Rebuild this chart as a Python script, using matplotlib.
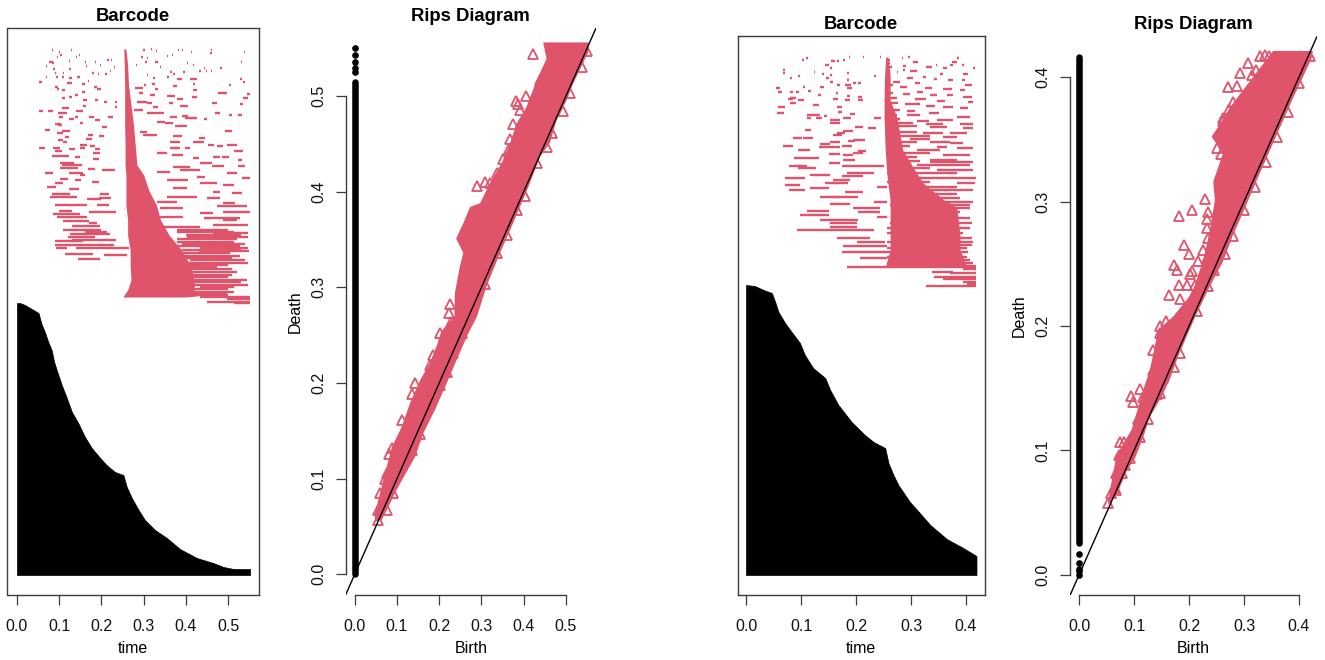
import matplotlib
matplotlib.use('Agg')
import matplotlib.pyplot as plt

RED = '#DF536B'
AXIS = '#3c3c3c'
W, H = 1325., 660.

plt.rcParams['font.family'] = ['Liberation Sans', 'DejaVu Sans']
plt.rcParams['font.size'] = 11.5

# ---- left pair ----
# black bars: outline of the stack, (rank, death)
black_rank_a = [0, 6, 6, 8, 12, 17, 26, 37, 45, 55, 65, 77, 88, 100, 103, 110, 117, 127, 138, 152, 163, 177, 190, 205, 213, 225, 233, 243, 251, 262, 266, 270, 272, 272]
black_end_a = [.552, .552, .513, .489, .465, .426, .386, .355, .327, .303, .288, .272, .260, .252, .232, .212, .197, .177, .161, .145, .130, .118, .106, .094, .088, .082, .074, .066, .058, .051, .035, .019, .007, 0.0]

# dense part of the red bars: rank, birth, death
core_rank_a = [526, 510, 490, 470, 450, 430, 410, 400, 385, 370, 355, 340, 325, 310, 295, 285, 279, 278]
core_left_a = [.253, .254, .255, .255, .255, .256, .256, .258, .258, .258, .262, .262, .268, .268, .270, .262, .252, .252]
core_right_a = [.258, .262, .264, .270, .276, .280, .284, .300, .312, .330, .340, .360, .390, .410, .420, .420, .425, .400]

red_left_a = [
    (525,.084,.086),(523,.100,.103),(520,.103,.106),(525,.129,.131),(520,.148,.150),(518,.095,.097),(518,.140,.143),
    (516,.146,.148),(514,.122,.125),(513,.076,.085),(513,.162,.164),(513,.184,.186),(515,.214,.217),(515,.223,.226),
    (512,.084,.087),(510,.197,.200),(509,.069,.071),(509,.163,.166),(508,.230,.233),(506,.086,.090),(506,.124,.127),
    (502,.108,.111),(502,.090,.092),(502,.177,.183),(501,.192,.195),(501,.209,.212),(504,.220,.223),(498,.069,.072),
    (498,.092,.098),(498,.106,.111),(498,.141,.149),(497,.122,.130),(493,.053,.059),(494,.167,.171),(492,.118,.130),
    (491,.153,.161),(488,.090,.096),(488,.182,.190),(486,.189,.198),(485,.106,.114),(486,.094,.100),(483,.153,.161),
    (480,.137,.144),(478,.122,.130),(477,.106,.114),(475,.157,.165),(475,.185,.193),(473,.205,.213),(473,.232,.238),
    (469,.157,.163),(468,.232,.238),(467,.106,.122),(464,.051,.061),(464,.074,.086),(464,.140,.157),(462,.098,.118),
    (458,.100,.110),(458,.171,.182),(458,.216,.227),(458,.137,.145),(456,.122,.135),(455,.185,.197),(451,.090,.104),
    (452,.149,.156),(450,.098,.106),(448,.201,.214),(445,.066,.078),(444,.106,.126),(442,.094,.110),(440,.169,.179),
    (439,.195,.206),(438,.114,.122),(436,.163,.177),(435,.098,.110),(433,.108,.118),(430,.149,.165),(429,.173,.185),
    (427,.053,.066),(427,.085,.102),(426,.122,.137),(427,.149,.161),(426,.185,.197),(424,.090,.106),(422,.181,.197),
    (419,.082,.122),(418,.137,.149),(416,.181,.195),(412,.102,.134),(410,.106,.153),(407,.102,.145),(406,.169,.185),
    (405,.201,.232),(402,.067,.086),(402,.122,.157),(400,.149,.161),(396,.102,.120),(395,.137,.152),(392,.090,.110),
    (393,.178,.195),(388,.072,.093),(386,.122,.148),(381,.082,.125),(381,.197,.217),(378,.078,.143),(377,.195,.222),
    (376,.165,.200),(370,.090,.165),(370,.190,.217),(364,.100,.130),(363,.170,.235),(361,.085,.150),(358,.095,.165),
    (354,.110,.170),(352,.170,.190),(349,.130,.197),(345,.110,.200),(343,.160,.213),(341,.125,.220),(338,.120,.185),
    (335,.130,.235),(334,.090,.157),(330,.090,.230),(327,.092,.118),(327,.140,.265),(321,.114,.181),(316,.145,.197),
    (320,.205,.260),
]
red_right_a = [
    (525,.299,.302),(526,.317,.319),(524,.329,.331),(526,.347,.348),(525,.381,.383),(525,.390,.393),(523,.412,.414),
    (525,.460,.463),(522,.457,.461),(523,.538,.540),(520,.367,.370),(519,.355,.357),(518,.293,.298),(517,.307,.310),
    (513,.303,.307),(513,.327,.333),(513,.530,.533),(510,.282,.285),(512,.402,.405),(510,.416,.419),(508,.339,.342),
    (507,.481,.485),(507,.442,.446),(504,.431,.435),(504,.448,.451),(504,.460,.463),(503,.363,.367),(503,.393,.397),
    (501,.370,.374),(500,.307,.311),(498,.355,.361),(497,.323,.327),(496,.378,.390),(496,.410,.426),(496,.528,.533),
    (493,.536,.541),(491,.319,.327),(491,.416,.422),(490,.301,.305),(490,.501,.506),(489,.370,.378),(487,.280,.299),
    (486,.327,.335),(485,.418,.426),(482,.477,.497),(482,.288,.299),(481,.544,.551),(480,.315,.327),(479,.355,.374),
    (478,.414,.426),(477,.536,.546),(476,.378,.394),(473,.284,.307),(472,.307,.319),(472,.359,.370),(471,.528,.536),
    (472,.461,.473),(469,.386,.406),(468,.323,.335),(465,.276,.299),(462,.469,.481),(462,.307,.347),(460,.501,.509),
    (460,.524,.534),(459,.390,.406),(458,.363,.378),(457,.398,.426),(456,.442,.451),(453,.331,.351),(452,.351,.370),
    (449,.374,.402),(444,.493,.509),(443,.291,.307),(440,.299,.331),(439,.370,.390),(437,.430,.445),(433,.363,.386),
    (433,.418,.442),(430,.453,.467),(429,.473,.489),(430,.497,.522),(427,.363,.386),(427,.398,.410),(424,.513,.536),
    (422,.331,.355),(420,.367,.394),(418,.465,.481),(418,.485,.501),(417,.418,.430),(415,.524,.532),(412,.434,.461),
    (409,.461,.491),(409,.524,.540),(408,.370,.410),(405,.386,.434),(403,.331,.363),(402,.497,.521),(398,.426,.445),
    (397,.532,.552),(395,.355,.406),(392,.434,.473),(390,.489,.513),(387,.370,.402),(383,.465,.481),(382,.509,.532),
    (378,.355,.426),(377,.449,.481),(373,.331,.378),(372,.489,.517),(369,.473,.544),(367,.339,.394),(363,.489,.552),
    (362,.434,.465),(358,.331,.394),(357,.442,.528),(355,.489,.521),(350,.465,.548),(348,.307,.434),(343,.378,.513),
    (342,.465,.548),(338,.402,.548),(333,.378,.513),(329,.378,.528),(327,.434,.548),(322,.378,.505),(319,.386,.528),
    (312,.394,.548),(308,.386,.473),(303,.386,.521),(300,.402,.509),(295,.386,.544),(290,.386,.548),(288,.434,.513),
    (283,.410,.513),(282,.410,.497),(278,.434,.552),(276,.497,.552),(273,.449,.552),(272,.513,.552),
    (345,.380,.500),(340,.400,.530),(336,.380,.520),(331,.390,.540),(325,.390,.530),(324,.430,.550),(317,.390,.510),
    (315,.410,.540),(310,.390,.500),(306,.400,.510),(298,.390,.500),(293,.400,.530),(286,.410,.500),(280,.410,.500),
]

# rips diagram, left: outline of the solid band and the triangles that stand out of it
band_upper_a = [(.446,.556),(.454,.539),(.431,.517),(.407,.489),(.383,.471),(.368,.451),(.348,.430),(.320,.409),
                (.297,.388),(.273,.384),(.257,.367),(.240,.351),(.257,.336),(.249,.322),(.237,.294),(.236,.270),
                (.205,.254),(.195,.240),(.178,.221),(.155,.203),(.131,.179),(.111,.154),(.088,.133),(.072,.106),
                (.060,.085),(.048,.064)]
band_lower_a = [(.553,.556),(.553,.546),(.517,.513),(.502,.496),(.478,.475),(.462,.451),(.438,.436),(.411,.405),
                (.391,.384),(.368,.360),(.344,.336),(.312,.301),(.289,.269),(.269,.252),(.241,.224),(.214,.196),
                (.190,.172),(.162,.147),(.143,.123),(.095,.085),(.076,.067),(.064,.057),(.048,.055)]
tri_birth_a = [.421,.466,.482,.454,.438,.450,.405,.382,.387,.390,.374,.393,.407,.368,.366,.352,.336,.289,.308,.320,
               .336,.344,.226,.222,.229,.549,.537,.509,.494,.466,.454,.431,.403,.383,.360,.336,.308,.202,.218,.186,
               .178,.143,.135,.159,.111,.088,.080,.076,.072,.060,.054,.056,.076,.091,.115,.135,.155,.178,.202,.218,
               .233,.253]
tri_death_a = [.544,.538,.532,.526,.517,.510,.500,.495,.492,.485,.471,.472,.477,.455,.445,.434,.419,.406,.410,.409,
               .409,.403,.283,.273,.264,.547,.530,.503,.484,.461,.447,.430,.395,.381,.355,.336,.304,.252,.243,.229,
               .219,.200,.189,.187,.161,.132,.126,.106,.100,.085,.067,.057,.067,.085,.120,.130,.147,.179,.198,.212,
               .231,.252]
# deaths of the dimension 0 points
col_runs_a = [(0.0, .515)]
col_dots_a = [.525, .529, .536, .543, .550]

# ---- right pair ----
black_rank_b = [0, 19, 27, 36, 50, 62, 73, 90, 100, 112, 127, 133, 140, 153, 170, 185, 197, 207, 220, 232, 243, 252, 263, 273, 282, 285, 289, 290]
black_end_b = [.419, .419, .395, .365, .335, .316, .298, .277, .268, .259, .253, .232, .216, .192, .168, .153, .144, .122, .107, .098, .083, .071, .059, .053, .047, .032, .016, 0.0]

core_rank_b = [518, 500, 475, 458, 425, 402, 392, 375, 368, 340, 325, 309, 308]
core_left_b = [.254, .252, .251, .251, .253, .256, .258, .262, .262, .262, .262, .254, .254]
core_right_b = [.258, .262, .262, .274, .285, .310, .322, .360, .383, .389, .389, .401, .401]

red_left_b = [
    (515,.101,.105),(517,.109,.112),(514,.155,.162),(514,.166,.169),(515,.177,.180),(518,.187,.189),(518,.212,.215),
    (517,.232,.233),(518,.244,.245),(510,.144,.150),(507,.153,.156),(505,.068,.071),(502,.068,.071),(503,.124,.126),
    (501,.138,.141),(500,.153,.157),(502,.184,.187),(499,.233,.236),(499,.095,.098),(497,.080,.083),(497,.145,.150),
    (495,.183,.187),(493,.153,.158),(492,.195,.200),(492,.204,.209),(490,.166,.171),(490,.180,.190),(488,.135,.141),
    (487,.183,.192),(488,.103,.107),(487,.055,.061),(484,.113,.118),(483,.059,.065),(483,.080,.086),(483,.091,.097),
    (482,.164,.168),(480,.130,.136),(479,.183,.189),(478,.204,.210),(477,.080,.091),(476,.077,.086),(475,.095,.105),
    (476,.159,.168),(475,.180,.189),(475,.204,.212),(472,.080,.091),(470,.122,.133),(468,.059,.071),(468,.165,.174),
    (463,.168,.174),(462,.057,.069),(460,.110,.135),(459,.141,.147),(461,.189,.198),(457,.110,.119),(457,.177,.190),
    (457,.128,.138),(457,.233,.245),(455,.153,.171),(452,.152,.171),(448,.198,.213),(447,.222,.236),(445,.107,.119),
    (444,.177,.195),(442,.165,.180),(440,.159,.174),(437,.085,.101),(437,.104,.121),(435,.195,.216),(434,.186,.198),
    (433,.153,.171),(431,.135,.153),(429,.067,.085),(428,.132,.171),(429,.174,.192),(425,.095,.116),(424,.204,.219),
    (422,.195,.213),(421,.150,.171),(420,.177,.195),(417,.087,.132),(415,.177,.198),(412,.150,.171),(409,.079,.110),
    (409,.174,.250),(407,.095,.128),(402,.183,.232),(400,.116,.153),(399,.174,.213),(397,.071,.107),(395,.159,.189),
    (392,.159,.186),(392,.144,.165),(390,.071,.099),(388,.238,.256),(387,.116,.150),(385,.079,.107),(383,.180,.213),
    (378,.156,.204),(378,.135,.171),(373,.232,.256),(371,.153,.189),(367,.195,.244),(364,.110,.150),(363,.204,.244),
    (360,.098,.150),(358,.238,.256),(355,.135,.204),(352,.153,.201),(348,.153,.201),(345,.092,.232),(337,.165,.225),
    (333,.201,.253),(329,.177,.256),(323,.174,.256),(317,.207,.256),(308,.183,.256),
]
red_right_b = [
    (515,.259,.262),(512,.256,.262),(508,.256,.265),(517,.283,.285),(518,.295,.298),(513,.304,.313),(509,.286,.290),
    (508,.328,.338),(510,.345,.348),(507,.359,.365),(510,.371,.376),(513,.374,.383),(517,.384,.388),(510,.392,.396),
    (507,.413,.417),(505,.286,.289),(503,.274,.277),(504,.298,.310),(501,.353,.359),(501,.395,.404),(498,.322,.328),
    (497,.292,.304),(496,.341,.347),(495,.368,.377),(495,.392,.398),(493,.268,.280),(492,.307,.316),(490,.256,.268),
    (490,.398,.410),(488,.280,.292),(487,.325,.338),(486,.359,.374),(485,.389,.398),(483,.310,.322),(482,.256,.268),
    (481,.286,.298),(480,.335,.347),(480,.365,.377),(478,.395,.410),(477,.256,.274),(476,.307,.328),(474,.347,.362),
    (473,.404,.413),(472,.256,.277),(471,.289,.316),(469,.328,.344),(468,.359,.377),(467,.389,.404),(465,.256,.280),
    (464,.292,.307),(462,.332,.350),(460,.256,.274),(460,.292,.316),(458,.383,.407),(456,.262,.280),(455,.347,.377),
    (454,.310,.332),(452,.256,.304),(451,.328,.359),(451,.389,.413),(449,.256,.310),(448,.335,.365),(447,.395,.413),
    (443,.262,.310),(442,.322,.359),(442,.371,.401),(439,.256,.335),(438,.359,.383),(436,.298,.335),(433,.256,.310),
    (433,.335,.371),(432,.371,.395),(429,.256,.298),(428,.347,.365),(425,.310,.353),(427,.383,.413),(422,.256,.335),
    (420,.359,.407),(418,.256,.310),(415,.335,.383),(414,.256,.316),(413,.335,.413),(410,.256,.298),(410,.310,.407),
    (407,.256,.335),(405,.347,.413),(402,.256,.383),(397,.274,.419),(393,.256,.335),(392,.383,.416),(388,.274,.383),
    (385,.262,.413),(381,.274,.383),(377,.268,.389),(373,.274,.413),(370,.262,.407),(367,.274,.407),(363,.274,.389),
    (357,.274,.407),(352,.262,.410),(347,.256,.407),(342,.256,.395),(337,.268,.410),(333,.256,.413),(330,.274,.410),
    (327,.256,.401),(323,.256,.404),(318,.256,.401),(315,.262,.407),(312,.256,.413),(309,.383,.419),(308,.256,.419),
    (306,.395,.419),(303,.338,.377),(302,.371,.419),(298,.341,.419),(296,.359,.419),(293,.395,.419),(291,.401,.419),
    (289,.328,.419),
]

band_upper_b = [(.353,.421),(.299,.390),(.275,.376),(.259,.364),(.241,.352),(.262,.339),(.244,.316),(.247,.301),
                (.238,.277),(.226,.253),(.205,.226),(.172,.208),(.144,.197),(.129,.165),(.117,.149),(.096,.117),
                (.068,.096),(.053,.060)]
band_lower_b = [(.425,.421),(.423,.415),(.388,.382),(.366,.360),(.350,.344),(.326,.320),(.298,.291),(.279,.272),
                (.262,.252),(.238,.232),(.214,.210),(.196,.192),(.178,.173),(.165,.157),(.150,.143),(.129,.127),
                (.117,.111),(.102,.094),(.087,.084),(.072,.068),(.053,.056)]
tri_birth_b = [.229,.206,.182,.235,.232,.232,.235,.190,.200,.225,.216,.232,.172,.178,.205,.202,.232,.245,.181,.196,
               .210,.223,.235,.164,.184,.208,.214,.159,.147,.172,.308,.293,.321,.329,.338,.270,.287,.272,.262,.250,
               .259,.275,.147,.135,.172,.162,.135,.184,.172,.153,.132,.111,.094,.098,.117,.114,.141,.108,.081,.075,
               .072,.084,.068,.078,.084,.068,.065,.053,.059,.093,.111,.126,.147,
               .420,.400,.380,.360,.340,.320,.300,.280,.265,.345,.315,.280,.262]
tri_death_b = [.302,.293,.288,.292,.286,.279,.271,.265,.258,.261,.252,.255,.249,.245,.244,.242,.244,.245,.233,.233,
               .233,.235,.232,.225,.222,.224,.212,.204,.200,.201,.411,.403,.406,.417,.418,.392,.393,.374,.367,.343,
               .338,.340,.194,.181,.192,.181,.165,.178,.167,.159,.153,.149,.144,.139,.143,.130,.145,.125,.107,.107,
               .096,.100,.082,.082,.088,.068,.070,.058,.066,.094,.111,.125,.146,
               .417,.395,.372,.352,.332,.312,.293,.272,.258,.417,.402,.380,.365]
col_runs_b = [(.026, .416)]
col_dots_b = [0.0, .003, .005, .010, .017]

x_ticks_a = [0.0, 0.1, 0.2, 0.3, 0.4, 0.5]
x_ticks_b = [0.0, 0.1, 0.2, 0.3, 0.4]


def make_axes(fig, x0, x1, top, bottom=595.):
    # pixel box of the panel -> figure fraction
    return fig.add_axes([x0 / W, 1 - bottom / H, (x1 - x0) / W, (bottom - top) / H])


def style_ticks(ax):
    ax.tick_params(length=7.2, width=0.9, color=AXIS, labelcolor='#111111')
    ax.tick_params(axis='x', pad=10)
    ax.set_xticklabels([f'{t:.1f}' for t in ax.get_xticks()])


def barcode(ax, rank, end, core_r, core_l, core_e, bars, xlim, ylim, ticks):
    ax.fill_betweenx(rank, 0, end, color='black', lw=0.5)
    ax.fill_betweenx(core_r, core_l, core_e, color=RED, lw=0)
    ax.hlines([b[0] for b in bars], [b[1] for b in bars], [b[2] for b in bars], color=RED, lw=1.7)
    ax.set_xlim(*xlim)
    ax.set_ylim(*ylim)
    ax.set_yticks([])
    ax.set_xticks(ticks)
    style_ticks(ax)
    for s in ax.spines.values():
        s.set_color(AXIS)
        s.set_linewidth(1.0)
    ax.set_title('Barcode', fontweight='bold', fontsize=13.3, pad=5)
    ax.set_xlabel('time', labelpad=5)


def rips(ax, upper, lower, tb, td, runs, dots, xlim, ylim, ticks):
    poly = upper + lower[::-1]
    ax.fill([p[0] for p in poly], [p[1] for p in poly], color=RED, lw=0)
    ax.plot(tb, td, '^', mfc='none', mec=RED, ms=7.2, mew=1.3, ls='none')
    for lo, hi in runs:
        ax.plot([0, 0], [lo, hi], color='black', lw=4.7, solid_capstyle='round')
    ax.plot([0] * len(dots), dots, 'o', color='black', ms=4.8, mew=0)
    ax.plot([-1, 1], [-1, 1], color='black', lw=1.0)
    ax.set_xlim(*xlim)
    ax.set_ylim(*ylim)
    ax.set_xticks(ticks)
    ax.set_yticks(ticks)
    style_ticks(ax)
    ax.tick_params(axis='y', labelrotation=90, pad=7)
    for lab in ax.get_yticklabels():
        lab.set_va('center')
    ax.spines['top'].set_visible(False)
    ax.spines['right'].set_visible(False)
    ax.spines['bottom'].set_bounds(ticks[0], ticks[-1])
    ax.spines['left'].set_bounds(ticks[0], ticks[-1])
    for side in ('bottom', 'left'):
        ax.spines[side].set_color(AXIS)
        ax.spines[side].set_linewidth(1.0)
    ax.set_title('Rips Diagram', fontweight='bold', fontsize=13.3, pad=5)
    ax.set_xlabel('Birth', labelpad=5)
    ax.set_ylabel('Death', labelpad=6)


fig = plt.figure(figsize=(W / 100, H / 100), dpi=100)

ax1 = make_axes(fig, 7.5, 258.5, 27.5)
barcode(ax1, black_rank_a, black_end_a, core_rank_a, core_left_a, core_right_a, red_left_a + red_right_a,
        (-.0225, .572), (-20, 547.5), x_ticks_a)
ax2 = make_axes(fig, 345.7, 596, 27.5)
rips(ax2, band_upper_a, band_lower_a, tri_birth_a, tri_death_a, col_runs_a, col_dots_a,
     (-.0213, .571), (-.0216, .5716), x_ticks_a)
ax3 = make_axes(fig, 737.5, 985, 36)
barcode(ax3, black_rank_b, black_end_b, core_rank_b, core_left_b, core_right_b, red_left_b + red_right_b,
        (-.0155, .4345), (-20, 539), x_ticks_b)
ax4 = make_axes(fig, 1070, 1317, 36)
rips(ax4, band_upper_b, band_lower_b, tri_birth_b, tri_death_b, col_runs_b, col_dots_b,
     (-.0164, .4327), (-.0161, .433), x_ticks_b)

fig.savefig('out.png', dpi=100)
